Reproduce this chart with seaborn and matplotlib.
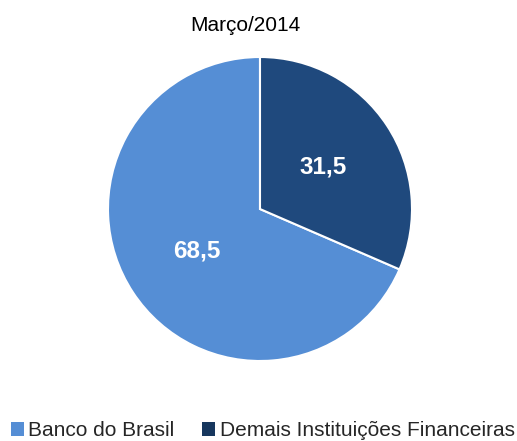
import seaborn as sns
import matplotlib.pyplot as plt
from matplotlib.patches import Patch

categories = ["Banco do Brasil", "Demais Instituições Financeiras"]
shares = [68.5, 31.5]
value_labels = ["68,5", "31,5"]
title = "Março/2014"

sns.set_theme(style="white")
plt.rcParams['font.family'] = ['Liberation Sans', 'DejaVu Sans']

colors = ["#558ED5", "#1F497D"]
legend_colors = ["#558ED5", "#17375E"]

fig = plt.figure(figsize=(5.17, 4.41), dpi=100)
ax = fig.add_axes([108 / 517, 80 / 441, 304 / 517, 304 / 441])

wedges, texts = ax.pie(
    shares, colors=colors, startangle=90, counterclock=True,
    labels=value_labels, labeldistance=0.5,
    wedgeprops=dict(edgecolor="white", linewidth=1.5),
    textprops=dict(color="white", fontsize=17.5, fontweight="bold", ha="center", va="center"),
)
ax.set_aspect("equal")
ax.set_xlim(-1, 1)
ax.set_ylim(-1, 1)

fig.text(0.475, 0.943, title, ha="center", va="center", fontsize=15, color="black")

handles = [Patch(facecolor=c, edgecolor="none") for c in legend_colors]
fig.legend(handles, categories, loc="center", bbox_to_anchor=(0.508, 0.024),
           ncol=2, frameon=False, fontsize=15, handlelength=0.65, handleheight=0.65,
           handletextpad=0.2, columnspacing=1.3, borderaxespad=0, borderpad=0)

fig.savefig("out.png", dpi=100)
